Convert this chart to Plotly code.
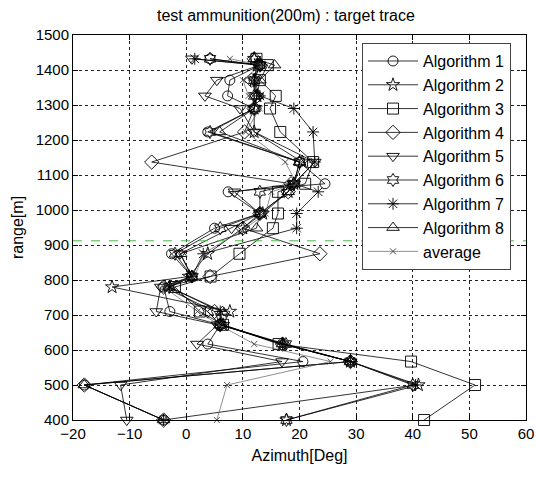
import plotly.graph_objects as go

# range levels (m)
ranges = [400, 500, 567, 617, 672, 710, 780, 810, 875, 948, 990, 1052, 1075, 1137, 1223, 1290, 1326, 1371, 1414, 1432]

alg1 = [-4, -18, 20.6, 3.8, 6, -2.9, -4, 1, -2.6, 5, 13, 7.4, 24.5, 20, 3.8, 12, 7.3, 7.7, 13, 4.2]
alg2 = [17.7, 41, 29, 17, 6.5, 7.7, -13.1, 0.5, 3.8, 10, 13.5, 18, 19, 20.5, 12, 12, 12.5, 12, 12.5, 12]
alg3 = [42, 51, 39.7, 16.3, 6.5, 2.4, -2, 4.3, 9.4, 15.3, 16.2, 16.2, 21, 22.4, 16.6, 14.8, 15.8, 13, 14.4, 12.4]
alg4 = [-4, -18, 29, 17, 6, 5, -4, 4.2, 23.6, 10, 13, 18, 18.5, -6.1, 10.3, 12, 12.5, 11.5, 13, 12]
alg5 = [-10.5, -11.6, 16.9, 1.9, 5.5, -5.3, -4.5, 1, -1.1, 8, 13, 8.5, 19, 22.7, 12, 9.5, 3.3, 5.4, 13, 1]
alg6 = [17.7, 40, 29, 17.6, 6, 3.8, -3, 1, -2, 6, 13, 13, 19, 20, 4.2, 12, 12, 12, 13, 4.2]
alg7 = [-4, 40.5, 29, 17, 6, 6, -3, 1, 3, 19.5, 19.5, 23.3, 19, 22.7, 22.4, 19, 13, 12, 13, 1.5]
alg8 = [-4, -18, 29, 17, 6, 6.4, -3, 1, -1, 12.4, 13, 18, 19, 20, 5.9, 12, 12.5, 13, 15.6, 12]
average = [5.4, 7.2, 25.5, 12, 5.8, 2, -4, 1.5, 3, 10.5, 14, 15, 19.5, 17.5, 10.5, 13, 11, 10, 13.2, 7.7]

names = ["Algorithm 1", "Algorithm 2", "Algorithm 3", "Algorithm 4", "Algorithm 5",
         "Algorithm 6", "Algorithm 7", "Algorithm 8", "average"]
series = [alg1, alg2, alg3, alg4, alg5, alg6, alg7, alg8, average]
symbols = ["circle-open", "star-open", "square-open", "diamond-open", "triangle-down-open",
           "hexagram-open", "asterisk-open", "triangle-up-open", "x-thin-open"]
sizes = [10, 10, 11, 11, 11, 10, 10, 11, 6]

ref_range = 912  # green dashed reference line

fig = go.Figure()
for nm, vals, sym, sz in zip(names, series, symbols, sizes):
    is_avg = nm == "average"
    col = "#444" if is_avg else "#000"
    fig.add_trace(go.Scatter(
        x=vals, y=ranges, name=nm, mode="lines+markers", cliponaxis=False,
        line=dict(color=col, width=0.6 if is_avg else 0.8),
        marker=dict(symbol=sym, size=sz, color=col, line=dict(width=0.9, color=col)),
    ))

fig.add_shape(type="line", xref="paper", x0=0, x1=1, yref="y", y0=ref_range, y1=ref_range,
              line=dict(color="#44bb44", width=1, dash="dash"))

axis_common = dict(
    showgrid=True, gridcolor="#222", griddash="dot", gridwidth=0.8,
    showline=True, linecolor="black", linewidth=1, mirror="ticks",
    ticks="inside", ticklen=5, tickcolor="black", zeroline=False,
    tickfont=dict(size=15, color="black"), automargin=False,
)

fig.update_layout(
    width=536, height=487,
    margin=dict(l=73, r=10, t=35, b=67, autoexpand=False),
    paper_bgcolor="white", plot_bgcolor="white",
    font=dict(family="Liberation Sans, Arial, sans-serif", color="black", size=16),
    title=dict(text="test ammunition(200m) : target trace", x=0.47, xref="paper", xanchor="center",
               y=0.968, yanchor="middle", font=dict(size=16)),
    xaxis=dict(range=[-20, 60], dtick=10, title=dict(text="Azimuth[Deg]", font=dict(size=16), standoff=8),
               **axis_common),
    yaxis=dict(range=[400, 1500], dtick=100, title=dict(text="range[m]", font=dict(size=16), standoff=8),
               **axis_common),
    showlegend=True,
    legend=dict(x=0.638, y=0.979, xanchor="left", yanchor="top",
                bgcolor="white", bordercolor="#444", borderwidth=1,
                font=dict(size=16), itemwidth=50, tracegroupgap=0),
)

fig.write_html("out.html", config={"displayModeBar": False},
               post_script="document.body.style.margin='0';")
